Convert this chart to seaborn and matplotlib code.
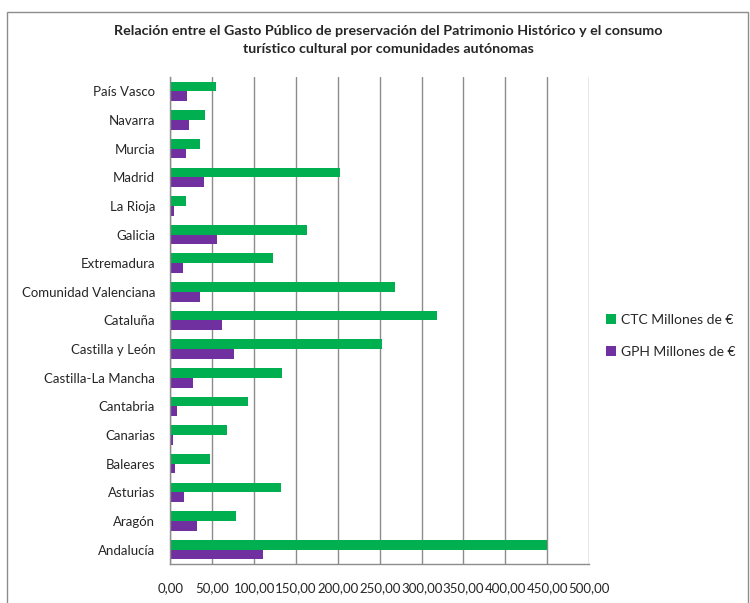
import pandas as pd
import matplotlib
matplotlib.use('Agg')
import matplotlib.pyplot as plt
import seaborn as sns
from matplotlib.patches import Rectangle
from matplotlib.ticker import FuncFormatter

comunidades = ['País Vasco', 'Navarra', 'Murcia', 'Madrid', 'La Rioja', 'Galicia',
               'Extremadura', 'Comunidad Valenciana', 'Cataluña', 'Castilla y León',
               'Castilla-La Mancha', 'Cantabria', 'Canarias', 'Baleares', 'Asturias',
               'Aragón', 'Andalucía']
ctc = [54.4, 41.6, 35.2, 202.0, 18.8, 162.8, 123.0, 268.0, 318.0, 253.0,
       133.0, 92.4, 68.0, 47.8, 131.5, 78.0, 450.0]
gph = [20.0, 22.4, 18.8, 40.4, 4.8, 56.0, 15.2, 35.6, 61.8, 75.7,
       27.5, 7.2, 3.2, 6.0, 16.3, 31.5, 110.0]
series = ['CTC Millones de €', 'GPH Millones de €']
colores = ['#00B050', '#7030A0']

df = pd.DataFrame({'Comunidad': comunidades * 2,
                   'Serie': [series[0]] * len(ctc) + [series[1]] * len(gph),
                   'Valor': ctc + gph})

sns.set_style('white')
plt.rcParams['font.family'] = ['Lato', 'DejaVu Sans']

fig = plt.figure(figsize=(7.5, 6.03), dpi=100)
ax = fig.add_axes([0.2273, 0.0647, 0.558, 0.8076])

sns.barplot(data=df, y='Comunidad', x='Valor', hue='Serie', order=comunidades,
            hue_order=series, palette=colores, orient='h', width=0.68,
            ax=ax, saturation=1, edgecolor='none')

ax.set_xlim(0, 500)
ax.set_xticks(range(0, 501, 50))
ax.xaxis.set_major_formatter(FuncFormatter(lambda v, p: f'{v:.2f}'.replace('.', ',')))
ax.set_ylim(len(comunidades) - 0.5, -0.5)
ax.grid(axis='x', color='#8c8c8c', linewidth=1)
ax.set_axisbelow(True)
ax.set_xlabel('')
ax.set_ylabel('')

for s in ['top', 'right']:
    ax.spines[s].set_visible(False)
for s in ['left', 'bottom']:
    ax.spines[s].set_color('#8c8c8c')
    ax.spines[s].set_linewidth(1)

ax.tick_params(axis='y', which='major', length=0, pad=11, labelsize=9.5)
ax.set_yticks([i + 0.5 for i in range(-1, len(comunidades))], minor=True)
ax.tick_params(axis='y', which='minor', length=4, color='#8c8c8c', direction='out')
ax.tick_params(axis='x', length=4, color='#8c8c8c', direction='out', labelsize=9.5, pad=9)

ax.legend_.remove()
handles, labels = ax.get_legend_handles_labels()
fig.legend(handles, labels, loc='center left', bbox_to_anchor=(0.808, 0.443),
           frameon=False, fontsize=10, handlelength=0.7, handleheight=0.7,
           handletextpad=0.4, labelspacing=1.4, borderpad=0, borderaxespad=0)

fig.text(0.518, 0.934, 'Relación entre el Gasto Público de preservación del Patrimonio Histórico y el consumo\nturístico cultural por comunidades autónomas',
         ha='center', va='center', fontsize=10.3, fontweight='bold', linespacing=1.6)

fig.patches.append(Rectangle((0.009, -0.05), 0.988, 1.03, transform=fig.transFigure,
                             fill=False, edgecolor='#8c8c8c', linewidth=1))

plt.savefig('out.png', dpi=100)
